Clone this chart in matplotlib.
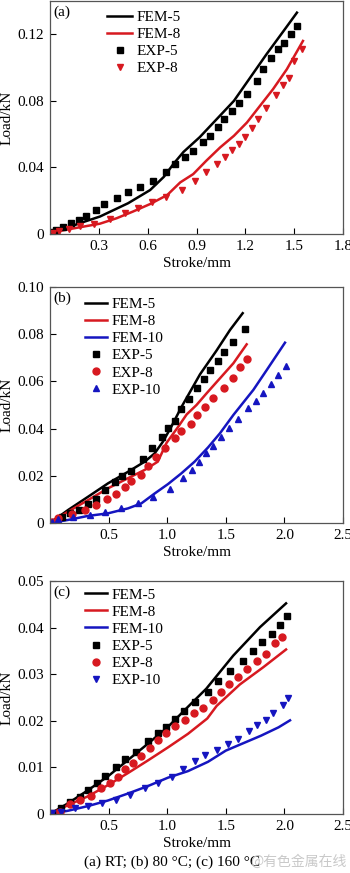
import matplotlib
matplotlib.use("Agg")
import matplotlib.pyplot as plt

# ---- data (stroke in mm, load in kN) ----
# (a) room temperature
a_fem5_x = [0, 0.10, 0.205, 0.307, 0.48, 0.615, 0.70, 0.76, 0.82, 0.92, 1.025, 1.13, 1.23, 1.33, 1.435, 1.517]
a_fem5_y = [0.0008, 0.0036, 0.0072, 0.0105, 0.0185, 0.0264, 0.0344, 0.0423, 0.0493, 0.0582, 0.0691, 0.080, 0.094, 0.108, 0.122, 0.133]
a_fem8_x = [0, 0.10, 0.307, 0.41, 0.51, 0.615, 0.72, 0.80, 0.88, 0.96, 1.045, 1.13, 1.21, 1.29, 1.37, 1.455, 1.554]
a_fem8_y = [0.0006, 0.0026, 0.0062, 0.0095, 0.0135, 0.018, 0.0234, 0.031, 0.036, 0.044, 0.052, 0.059, 0.067, 0.077, 0.087, 0.099, 0.116]
a_exp5_x = [0.004, 0.037, 0.078, 0.13, 0.18, 0.22, 0.28, 0.33, 0.41, 0.48, 0.55, 0.63, 0.71, 0.77, 0.83, 0.88,
            0.94, 0.98, 1.03, 1.07, 1.12, 1.16, 1.21, 1.27, 1.31, 1.36, 1.40, 1.44, 1.48, 1.52]
a_exp5_y = [0.0012, 0.0026, 0.0042, 0.0066, 0.0082, 0.011, 0.0145, 0.018, 0.0215, 0.025, 0.028, 0.032, 0.037, 0.042,
            0.046, 0.050, 0.055, 0.059, 0.064, 0.069, 0.074, 0.079, 0.084, 0.092, 0.099, 0.106, 0.111, 0.115, 0.120, 0.125]
a_exp8_x = [0.016, 0.057, 0.119, 0.185, 0.27, 0.37, 0.46, 0.54, 0.625, 0.71, 0.81, 0.89, 0.96, 1.025, 1.076, 1.12,
            1.16, 1.20, 1.24, 1.28, 1.33, 1.39, 1.43, 1.47, 1.50, 1.55]
a_exp8_y = [0.0006, 0.0016, 0.003, 0.0046, 0.0062, 0.0091, 0.0129, 0.0155, 0.0193, 0.022, 0.0264, 0.0318, 0.037,
            0.0423, 0.0463, 0.0503, 0.0538, 0.058, 0.0636, 0.069, 0.076, 0.0834, 0.0894, 0.094, 0.104, 0.111]

# (b) 80 C
b_fem5_x = [0, 0.154, 0.324, 0.495, 0.666, 0.808, 0.893, 0.964, 1.035, 1.12, 1.28, 1.42, 1.536, 1.644]
b_fem5_y = [0, 0.0055, 0.0111, 0.0168, 0.0217, 0.0260, 0.0295, 0.0345, 0.0408, 0.049, 0.063, 0.073, 0.0818, 0.0889]
b_fem8_x = [0, 0.154, 0.324, 0.495, 0.666, 0.808, 0.92, 0.995, 1.09, 1.166, 1.25, 1.337, 1.45, 1.565, 1.678]
b_fem8_y = [0, 0.0048, 0.0097, 0.0147, 0.019, 0.0225, 0.026, 0.034, 0.0405, 0.046, 0.050, 0.055, 0.0613, 0.0677, 0.0757]
b_fem10_x = [0, 0.154, 0.324, 0.495, 0.666, 0.779, 0.893, 1.007, 1.12, 1.234, 1.348, 1.45, 1.565, 1.735, 1.849, 2.005]
b_fem10_y = [0, 0.0013, 0.003, 0.0041, 0.0062, 0.0083, 0.0125, 0.0165, 0.021, 0.026, 0.032, 0.038, 0.0458, 0.0564, 0.0648, 0.0764]
b_exp5_x = [0.037, 0.105, 0.173, 0.245, 0.324, 0.395, 0.472, 0.552, 0.614, 0.694, 0.794, 0.870, 0.953, 1.01,
            1.067, 1.12, 1.186, 1.25, 1.31, 1.365, 1.433, 1.485, 1.565, 1.664]
b_exp5_y = [0.0003, 0.0024, 0.0041, 0.0056, 0.0080, 0.0102, 0.0140, 0.0175, 0.0199, 0.0222, 0.0270, 0.0316,
            0.0366, 0.0404, 0.0433, 0.0482, 0.0525, 0.0571, 0.0609, 0.0648, 0.0688, 0.0723, 0.0768, 0.0821]
b_exp8_x = [0.02, 0.068, 0.188, 0.296, 0.395, 0.489, 0.566, 0.637, 0.694, 0.774, 0.836, 0.907, 0.984, 1.064,
            1.12, 1.2, 1.257, 1.325, 1.393, 1.487, 1.565, 1.62, 1.678]
b_exp8_y = [0.0005, 0.002, 0.0038, 0.0055, 0.0076, 0.0100, 0.0123, 0.0151, 0.0178, 0.0203, 0.0242, 0.0278,
            0.0319, 0.0359, 0.0391, 0.0419, 0.0458, 0.0493, 0.0531, 0.0573, 0.0613, 0.0662, 0.0695]
b_exp10_x = [0.02, 0.068, 0.196, 0.339, 0.472, 0.603, 0.751, 0.879, 1.021, 1.137, 1.209, 1.274, 1.331, 1.393,
             1.459, 1.53, 1.601, 1.692, 1.758, 1.82, 1.883, 1.948, 2.014]
b_exp10_y = [0.0004, 0.0016, 0.0024, 0.0034, 0.0048, 0.0062, 0.0083, 0.0111, 0.0143, 0.0191, 0.0226, 0.026,
             0.0295, 0.0326, 0.0366, 0.0401, 0.0439, 0.0486, 0.0517, 0.055, 0.0588, 0.0627, 0.0665]

# (c) 160 C
c_fem5_x = [0, 0.154, 0.324, 0.495, 0.666, 0.836, 1.007, 1.177, 1.334, 1.564, 1.792, 2.014]
c_fem5_y = [0, 0.0023, 0.0051, 0.0081, 0.0116, 0.0151, 0.0187, 0.023, 0.0269, 0.034, 0.0401, 0.0452]
c_fem8_x = [0, 0.154, 0.324, 0.495, 0.666, 0.836, 1.007, 1.177, 1.342, 1.422, 1.62, 1.82, 2.014]
c_fem8_y = [0, 0.0019, 0.0038, 0.0062, 0.0088, 0.0115, 0.0143, 0.0172, 0.0205, 0.0232, 0.0278, 0.0315, 0.0353]
c_fem10_x = [0, 0.154, 0.324, 0.495, 0.666, 0.836, 1.007, 1.177, 1.348, 1.5, 1.65, 1.8, 1.95, 2.048]
c_fem10_y = [0, 0.0007, 0.0017, 0.0029, 0.0044, 0.006, 0.0078, 0.0092, 0.0112, 0.0136, 0.0152, 0.0168, 0.0186, 0.0201]
c_exp5_x = [0.02, 0.097, 0.168, 0.253, 0.324, 0.404, 0.472, 0.566, 0.637, 0.737, 0.836, 0.922, 0.993, 1.064,
            1.143, 1.234, 1.351, 1.436, 1.536, 1.65, 1.735, 1.812, 1.897, 1.962, 2.019]
c_exp5_y = [0.0003, 0.0012, 0.0026, 0.0037, 0.0051, 0.0066, 0.0081, 0.0100, 0.0117, 0.0133, 0.0156, 0.0173,
            0.0187, 0.0203, 0.0221, 0.0240, 0.0262, 0.0285, 0.0307, 0.0328, 0.0350, 0.0370, 0.0387, 0.0405, 0.0424]
c_exp8_x = [0.083, 0.168, 0.253, 0.353, 0.432, 0.509, 0.58, 0.643, 0.708, 0.779, 0.85, 0.922, 0.993, 1.064,
            1.149, 1.229, 1.308, 1.388, 1.456, 1.53, 1.607, 1.684, 1.769, 1.843, 1.92, 1.977]
c_exp8_y = [0.0005, 0.0021, 0.0029, 0.0039, 0.0055, 0.0066, 0.008, 0.0096, 0.011, 0.0124, 0.0141, 0.0158,
            0.0174, 0.0188, 0.0201, 0.0216, 0.0228, 0.0244, 0.0262, 0.0278, 0.0294, 0.0312, 0.0328, 0.0344, 0.0366, 0.038]
c_exp10_x = [0.02, 0.097, 0.21, 0.324, 0.444, 0.566, 0.68, 0.808, 0.922, 1.041, 1.135, 1.234, 1.32, 1.422,
             1.521, 1.607, 1.701, 1.769, 1.843, 1.906, 1.985, 2.034]
c_exp10_y = [0.0002, 0.0005, 0.0012, 0.0017, 0.0023, 0.003, 0.0041, 0.0055, 0.0066, 0.008, 0.0096, 0.0114,
             0.0126, 0.0137, 0.015, 0.0162, 0.0178, 0.019, 0.0201, 0.0216, 0.0233, 0.0248]

a_xticks = [0.3, 0.6, 0.9, 1.2, 1.5, 1.8]
a_yticks = [0, 0.04, 0.08, 0.12]
a_yticklabels = ["0", "0.04", "0.08", "0.12"]
bc_xticks = [0.5, 1.0, 1.5, 2.0, 2.5]
b_yticks = [0, 0.02, 0.04, 0.06, 0.08, 0.10]
b_yticklabels = ["0", "0.02", "0.04", "0.06", "0.08", "0.10"]
c_yticks = [0, 0.01, 0.02, 0.03, 0.04, 0.05]
c_yticklabels = ["0", "0.01", "0.02", "0.03", "0.04", "0.05"]

caption = "(a) RT; (b) 80 °C; (c) 160 °C"
watermark = "@有色金属在线"

RED = "#d71920"
BLUE = "#1515c0"

plt.rcParams["font.family"] = ["Liberation Serif", "DejaVu Serif"]
plt.rcParams["font.size"] = 11

W, H = 350, 873
fig = plt.figure(figsize=(W / 100, H / 100), dpi=100)


def axes_px(left, top, right, bottom):
    return fig.add_axes([left / W, 1 - bottom / H, (right - left) / W, (bottom - top) / H])


def style(ax, xlim, ylim, xticks, yticks, ylabels, tag):
    ax.set_xlim(*xlim)
    ax.set_ylim(*ylim)
    ax.set_xticks(xticks)
    ax.set_xticklabels([f"{t:.1f}" for t in xticks])
    ax.set_yticks(yticks)
    ax.set_yticklabels(ylabels)
    ax.tick_params(direction="in", length=4, width=0.8, pad=4, labelsize=11)
    for s in ax.spines.values():
        s.set_color("#555555")
        s.set_linewidth(0.9)
    ax.set_xlabel("Stroke/mm", fontsize=11, labelpad=3)
    ax.set_ylabel("Load/kN", fontsize=11, labelpad=3)
    ax.text(0.012, 0.98, tag, transform=ax.transAxes, ha="left", va="top", fontsize=11)


leg_kw = dict(loc="upper left", frameon=False, fontsize=11, borderpad=0, borderaxespad=0,
              labelspacing=0.22, handletextpad=0.3, numpoints=1)

# (a)
ax = axes_px(50, 1, 343, 234)
ax.plot(a_fem5_x, a_fem5_y, color="black", lw=1.8, label="FEM-5")
ax.plot(a_fem8_x, a_fem8_y, color=RED, lw=1.8, label="FEM-8")
ax.plot(a_exp5_x, a_exp5_y, "s", color="black", ms=4, ls="none", label="EXP-5")
ax.plot(a_exp8_x, a_exp8_y, "v", color=RED, ms=5, ls="none", label="EXP-8")
style(ax, (0, 1.8), (0, 0.14), a_xticks, a_yticks, a_yticklabels, "(a)")
ax.legend(bbox_to_anchor=(0.195, 0.96), handlelength=1.65, **leg_kw)

# (b)
ax = axes_px(50, 287, 343, 523)
ax.plot(b_fem5_x, b_fem5_y, color="black", lw=1.8, label="FEM-5")
ax.plot(b_fem8_x, b_fem8_y, color=RED, lw=1.8, label="FEM-8")
ax.plot(b_fem10_x, b_fem10_y, color=BLUE, lw=1.8, label="FEM-10")
ax.plot(b_exp5_x, b_exp5_y, "s", color="black", ms=4, ls="none", label="EXP-5")
ax.plot(b_exp8_x, b_exp8_y, "o", color=RED, ms=5, ls="none", label="EXP-8")
ax.plot(b_exp10_x, b_exp10_y, "^", color=BLUE, ms=5, ls="none", label="EXP-10")
style(ax, (0, 2.5), (0, 0.10), bc_xticks, b_yticks, b_yticklabels, "(b)")
ax.legend(bbox_to_anchor=(0.12, 0.955), handlelength=1.45, **leg_kw)

# (c)
ax = axes_px(50, 581, 343, 814)
ax.plot(c_fem5_x, c_fem5_y, color="black", lw=1.8, label="FEM-5")
ax.plot(c_fem8_x, c_fem8_y, color=RED, lw=1.8, label="FEM-8")
ax.plot(c_fem10_x, c_fem10_y, color=BLUE, lw=1.8, label="FEM-10")
ax.plot(c_exp5_x, c_exp5_y, "s", color="black", ms=4, ls="none", label="EXP-5")
ax.plot(c_exp8_x, c_exp8_y, "o", color=RED, ms=5, ls="none", label="EXP-8")
ax.plot(c_exp10_x, c_exp10_y, "v", color=BLUE, ms=5, ls="none", label="EXP-10")
style(ax, (0, 2.5), (0, 0.05), bc_xticks, c_yticks, c_yticklabels, "(c)")
ax.legend(bbox_to_anchor=(0.12, 0.97), handlelength=1.45, **leg_kw)

fig.text(172 / W, 1 - 862 / H, caption, ha="center", va="center", fontsize=11)
fig.text(250 / W, 1 - 862 / H, watermark, ha="left", va="center", fontsize=10,
         color="#c9c9c9", family=["Noto Sans CJK SC", "DejaVu Sans"])

fig.savefig("out.png", dpi=100)
